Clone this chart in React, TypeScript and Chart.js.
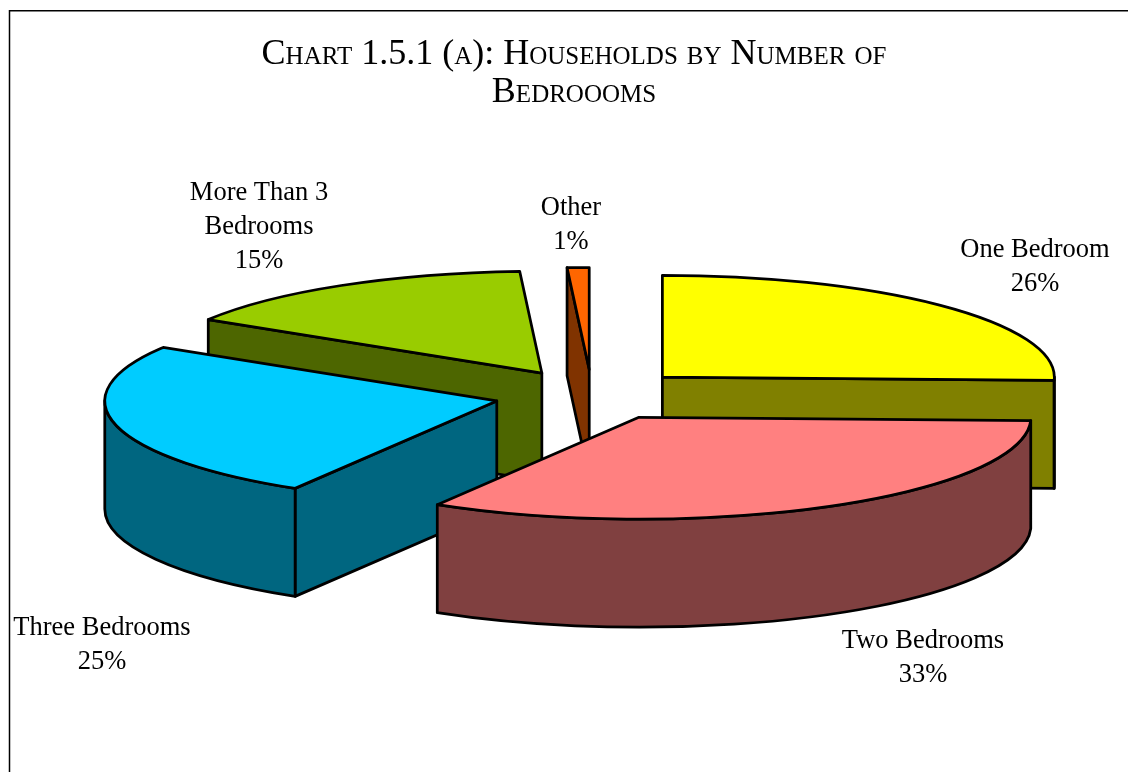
import React, { useEffect, useRef } from "react";
import { Chart, registerables } from "chart.js";

Chart.register(...registerables);

const categories = ["One Bedroom", "Two Bedrooms", "Three Bedrooms", "More Than 3 Bedrooms", "Other"];
const shares = [25.5, 33.1, 25.2, 15.3, 0.9];
const topColors = ["#FFFF00", "#FF8080", "#00CCFF", "#99CC00", "#FF6600"];
const sideColors = ["#808000", "#804040", "#006680", "#4D6600", "#803300"];
const titleLines = ["Chart 1.5.1 (a): Households by Number of", "Bedroooms"];

// Label centres (first line), in page pixels
const labelAnchors = [
  [1035, 250],
  [923, 641],
  [102, 628],
  [259, 193],
  [571, 208],
];

const PIE = { radius: 392, squash: 0.26, explode: 98, depth: 108, dx: 18, dy: -47 };

const pie3d = {
  id: "pie3d",
  beforeDatasetsDraw(chart: any) {
    const ctx = chart.ctx;
    const arcs = chart.getDatasetMeta(0).data;
    const { squash, explode, depth, dx, dy } = PIE;

    const slices = arcs.map((arc: any, i: number) => {
      const { x, y, startAngle, endAngle, outerRadius } = arc.getProps(["x", "y", "startAngle", "endAngle", "outerRadius"], true);
      const mid = (startAngle + endAngle) / 2;
      return {
        i,
        a0: startAngle,
        a1: endAngle,
        r: outerRadius,
        ax: x + dx + Math.cos(mid) * explode,
        ay: y + dy + Math.sin(mid) * explode * squash,
      };
    });
    slices.sort((p: any, q: any) => p.ay - q.ay);

    ctx.save();
    ctx.lineWidth = 2.75;
    ctx.lineJoin = "round";
    ctx.strokeStyle = "#000";
    for (const s of slices) {
      const rimX = (a: number) => s.ax + Math.cos(a) * s.r;
      const rimY = (a: number) => s.ay + Math.sin(a) * s.r * squash;
      const wall = (a: number) => {
        ctx.beginPath();
        ctx.moveTo(s.ax, s.ay);
        ctx.lineTo(rimX(a), rimY(a));
        ctx.lineTo(rimX(a), rimY(a) + depth);
        ctx.lineTo(s.ax, s.ay + depth);
        ctx.closePath();
        ctx.fillStyle = sideColors[s.i];
        ctx.fill();
        ctx.stroke();
      };
      if (Math.cos(s.a0) < -1e-9) wall(s.a0);
      if (Math.cos(s.a1) > 1e-9) wall(s.a1);

      const from = Math.max(s.a0, 0);
      const to = Math.min(s.a1, Math.PI);
      if (to > from) {
        ctx.beginPath();
        ctx.ellipse(s.ax, s.ay, s.r, s.r * squash, 0, from, to);
        ctx.lineTo(rimX(to), rimY(to) + depth);
        ctx.ellipse(s.ax, s.ay + depth, s.r, s.r * squash, 0, to, from, true);
        ctx.closePath();
        ctx.fillStyle = sideColors[s.i];
        ctx.fill();
        ctx.stroke();
      }

      ctx.beginPath();
      ctx.moveTo(s.ax, s.ay);
      ctx.ellipse(s.ax, s.ay, s.r, s.r * squash, 0, s.a0, s.a1);
      ctx.closePath();
      ctx.fillStyle = topColors[s.i];
      ctx.fill();
      ctx.stroke();
    }
    ctx.restore();
    return false;
  },
  afterDraw(chart: any) {
    const ctx = chart.ctx;
    ctx.save();
    // frame
    ctx.strokeStyle = "#000";
    ctx.lineWidth = 1.5;
    ctx.beginPath();
    ctx.moveTo(9.5, chart.height);
    ctx.lineTo(9.5, 10.75);
    ctx.lineTo(chart.width, 10.75);
    ctx.stroke();
    // labels
    ctx.fillStyle = "#000";
    ctx.font = "26.5px 'Liberation Serif'";
    ctx.textAlign = "center";
    ctx.textBaseline = "middle";
    categories.forEach((name, i) => {
      const words = name.split(" ");
      const lines: string[] = [];
      let line = "";
      for (const w of words) {
        const t = line ? line + " " + w : w;
        if (ctx.measureText(t).width > 200 && line) {
          lines.push(line);
          line = w;
        } else line = t;
      }
      lines.push(line, Math.round(shares[i]) + "%");
      lines.forEach((l, j) => ctx.fillText(l, labelAnchors[i][0], labelAnchors[i][1] + j * 34));
    });
    ctx.restore();
  },
};

export default function App() {
  const ref = useRef<HTMLCanvasElement>(null);
  useEffect(() => {
    const chart = new Chart(ref.current!, {
      type: "pie",
      data: {
        labels: categories,
        datasets: [{ data: shares, backgroundColor: topColors, borderColor: "#000", borderWidth: 2 }],
      },
      options: {
        animation: false,
        responsive: false,
        radius: PIE.radius,
        layout: { padding: { left: 20, right: 0, top: 0, bottom: 0 } },
        plugins: {
          legend: { display: false },
          tooltip: { enabled: false },
          title: {
            display: true,
            text: titleLines,
            color: "#000",
            padding: { top: 36, bottom: 1 },
            font: { family: "'Liberation Serif'", size: 36, weight: "small-caps", lineHeight: 1.04 },
          },
        },
      } as any,
      plugins: [pie3d as any],
    });
    return () => chart.destroy();
  }, []);
  return <canvas ref={ref} width={1128} height={772} style={{ position: "fixed", left: 0, top: 0, display: "block" }} />;
}
